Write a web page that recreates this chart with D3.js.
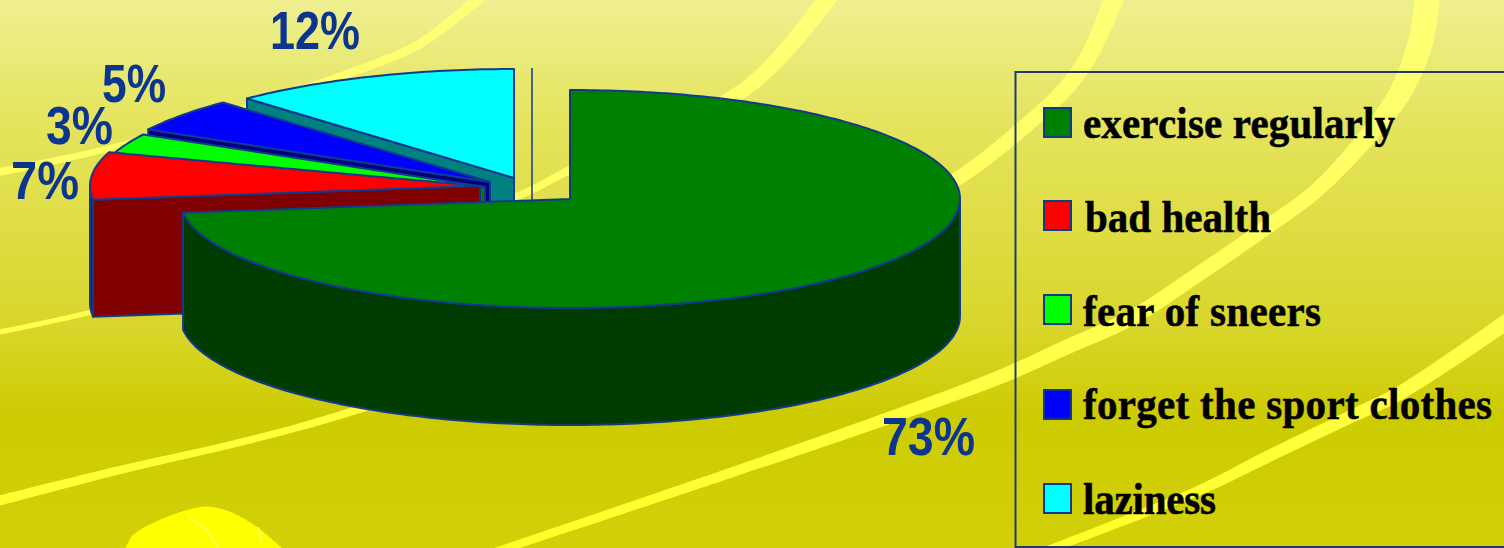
<!DOCTYPE html>
<html>
<head>
<meta charset="utf-8">
<script src="https://cdn.jsdelivr.net/npm/d3@7/dist/d3.min.js"></script>
<style>
html,body{margin:0;padding:0;background:#cfcd00;overflow:hidden}
svg{display:block}
</style>
</head>
<body>
<svg id="chart" width="1504" height="548"></svg>
<script>
// Survey answers, in the order they run clockwise from twelve o'clock
const categories = ["exercise regularly", "bad health", "fear of sneers", "forget the sport clothes", "laziness"];
const shares = [73, 7, 3, 5, 12];
const shareLabels = ["73%", "7%", "3%", "5%", "12%"];
const topColors = ["#008000", "#ff0000", "#00ff00", "#0000ff", "#00ffff"];
const wallColors = ["#003c00", "#800000", "#008000", "#000080", "#008080"];

// Pie geometry: a tilted disc seen as an ellipse, with a few slices pulled out
const W = 1504, H = 548;
const pieCenter = {x: 570, y: 199};
const radiusX = 390, radiusY = 109, depth = 117;
const explodeX = [0, -90, -85, -80, -56];
const explodeY = [0, -13, -12, -17, -21];
const edge = "#123a8c";
const textBlue = "#0c3590";

// Percentage label boxes: left, right, baseline
const labelLeft = [882, 11, 46, 102, 270];
const labelRight = [975, 79, 113, 166, 360];
const labelBase = [455, 199, 144, 102, 49];

// Legend layout
const legendBox = {x: 1015.5, y: 72, w: 600, h: 475};
const swatchTop = [108, 201, 295, 390, 484];
const legendBase = [138, 232, 326, 419, 514];
const legendLeft = [1083, 1085, 1083, 1083, 1083];
const legendRight = [1395, 1271, 1321, 1492, 1216];

const svg = d3.select("#chart");
const defs = svg.append("defs");

// Backdrop: pale at the top fading into olive yellow
const sky = defs.append("linearGradient").attr("id", "sky")
  .attr("x1", 0).attr("y1", 0).attr("x2", 0).attr("y2", 1);
[[0, "#efef90"], [0.22, "#e4e45e"], [0.44, "#dedc40"], [0.6, "#d8d62a"], [0.76, "#cdcb02"], [1, "#d2d008"]]
  .forEach(([o, c]) => sky.append("stop").attr("offset", o).attr("stop-color", c));
svg.append("rect").attr("width", W).attr("height", H).attr("fill", "url(#sky)");

// Ribbons are paler near the top of the page
const glow = defs.append("linearGradient").attr("id", "ribbonFill")
  .attr("gradientUnits", "userSpaceOnUse")
  .attr("x1", 0).attr("y1", 0).attr("x2", 0).attr("y2", H);
[[0, "#ffff78"], [0.5, "#ffff58"], [1, "#ffff28"]]
  .forEach(([o, c]) => glow.append("stop").attr("offset", o).attr("stop-color", c));

// Running-track ribbons behind the chart: x, y, thickness along each centre line
const ribbons = [
  [[-10,503,10],[120,470,8],[250,440,7],[350,412,8],[620,318,10],[860,232,13],[960,177,14],[1017,133,15],[1067,87,16],[1092,50,17],[1117,-10,20]],
  [[-10,174,8],[115,147,6],[230,113,7],[344,75,8],[421,43,9],[488,-10,11]],
  [[-10,334,5],[92,312,5],[300,255,6],[515,197,7],[570,170,8],[733,97,14],[780,57,16],[834,-10,18]],
  [[495,552,8],[730,473,10],[883,420,12],[1000,377,14],[1067,347,15],[1133,317,15],[1200,273,15],[1267,227,15],[1317,190,15],[1367,137,18],[1400,93,22],[1421,40,25],[1428,-10,25]],
  [[1040,553,8],[1200,490,10],[1267,457,12],[1350,417,13],[1400,393,14],[1515,316,16]]
];
const smooth = d3.line().curve(d3.curveCatmullRom.alpha(0.5));
function ribbonPath(pts) {
  const side = sign => pts.map((p, i) => {
    const a = pts[Math.max(i - 1, 0)], b = pts[Math.min(i + 1, pts.length - 1)];
    const dx = b[0] - a[0], dy = b[1] - a[1], len = Math.hypot(dx, dy);
    return [p[0] - sign * dy / len * p[2] / 2, p[1] + sign * dx / len * p[2] / 2];
  });
  const back = smooth(side(-1).reverse());
  return smooth(side(1)) + "L" + back.slice(1) + "Z";
}
svg.append("g").selectAll("path").data(ribbons).join("path")
  .attr("d", ribbonPath).attr("fill", "url(#ribbonFill)");

// Ball peeking in from the lower edge
const ball = [[125,550],[133,535],[167,517],[200,507],[213,507],[233,513],[257,527],[284,550]];
svg.append("path").attr("d", d3.line().curve(d3.curveCatmullRom)(ball)).attr("fill", "#ffff00");
svg.append("path").attr("d", d3.line()([[190,518],[207,530],[218,548]]))
  .attr("fill", "none").attr("stroke", "#ffff50").attr("stroke-width", 2);
svg.append("path").attr("d", d3.line()([[258,527],[262,545]]))
  .attr("fill", "none").attr("stroke", "#ffff50").attr("stroke-width", 2);

// Slice angles come from the pie layout; they run clockwise from the top
const slices = d3.pie().sort(null).startAngle(0).endAngle(2 * Math.PI)(shares);
const unitX = d3.scaleLinear().domain([-1, 1]).range([-radiusX, radiusX]);
const unitY = d3.scaleLinear().domain([-1, 1]).range([-radiusY, radiusY]);

function rim(from, to, i) {
  const cx = pieCenter.x + explodeX[i], cy = pieCenter.y + explodeY[i];
  const n = Math.max(2, Math.ceil((to - from) * 60));
  return d3.range(n + 1).map(k => {
    const a = from + (to - from) * k / n;
    return [cx + unitX(Math.sin(a)), cy - unitY(Math.cos(a))];
  });
}
const outline = d3.line();
const drop = p => [p[0], p[1] + depth];

const pie = svg.append("g").attr("stroke", edge).attr("stroke-width", 2).attr("stroke-linejoin", "round");

// Thin upright line beside the gap left by the pulled-out slices
pie.append("line")
  .attr("x1", pieCenter.x - 38).attr("x2", pieCenter.x - 38)
  .attr("y1", pieCenter.y - radiusY - 22).attr("y2", pieCenter.y + 2)
  .attr("stroke-width", 1.5);

// Back-to-front painting: the slices nearest the viewer go last
[4, 3, 2, 1, 0].forEach(i => {
  const s = slices[i];
  const pts = rim(s.startAngle, s.endAngle, i);
  const apex = [pieCenter.x + explodeX[i], pieCenter.y + explodeY[i]];
  const g = pie.append("g");

  // Cut face facing the viewer, then the part of the rim wall on the near side
  if (i > 0) {
    g.append("path")
      .attr("d", outline([apex, pts[0], drop(pts[0]), drop(apex)]) + "Z")
      .attr("fill", wallColors[i]);
  }
  const nearFrom = Math.max(s.startAngle, Math.PI / 2);
  const nearTo = Math.min(s.endAngle, 3 * Math.PI / 2);
  if (nearTo > nearFrom) {
    const near = rim(nearFrom, nearTo, i);
    g.append("path")
      .attr("d", outline([...near, ...near.slice().reverse().map(drop)]) + "Z")
      .attr("fill", wallColors[i]);
  }
  g.append("path").attr("d", outline([apex, ...pts]) + "Z").attr("fill", topColors[i]);
});

// Percentage labels, set in a narrowed bold sans
svg.append("g").selectAll("text").data(shareLabels).join("text")
  .attr("x", (d, i) => labelLeft[i])
  .attr("y", (d, i) => labelBase[i])
  .attr("textLength", (d, i) => labelRight[i] - labelLeft[i])
  .attr("lengthAdjust", "spacingAndGlyphs")
  .attr("font-family", "'Liberation Sans', Arial, sans-serif")
  .attr("font-weight", "bold").attr("font-size", 54)
  .attr("fill", textBlue)
  .text(d => d);

// Legend frame, swatches and entries; the serif is stretched a little taller
const legend = svg.append("g");
legend.append("rect")
  .attr("x", legendBox.x).attr("y", legendBox.y)
  .attr("width", legendBox.w).attr("height", legendBox.h)
  .attr("fill", "none").attr("stroke", "#1e3a70").attr("stroke-width", 2);
legend.selectAll("rect.swatch").data(categories).join("rect").attr("class", "swatch")
  .attr("x", 1044).attr("y", (d, i) => swatchTop[i])
  .attr("width", 27).attr("height", 29)
  .attr("fill", (d, i) => topColors[i])
  .attr("stroke", edge).attr("stroke-width", 2);
legend.selectAll("text").data(categories).join("text")
  .attr("transform", (d, i) => `translate(${legendLeft[i]},${legendBase[i]}) scale(1,1.07)`)
  .attr("textLength", (d, i) => legendRight[i] - legendLeft[i])
  .attr("lengthAdjust", "spacing")
  .attr("font-family", "'Liberation Serif', 'Times New Roman', serif")
  .attr("font-weight", "bold").attr("font-size", 41)
  .attr("fill", "#000").attr("stroke", "#000").attr("stroke-width", 0.5)
  .text(d => d);
</script>
</body>
</html>
